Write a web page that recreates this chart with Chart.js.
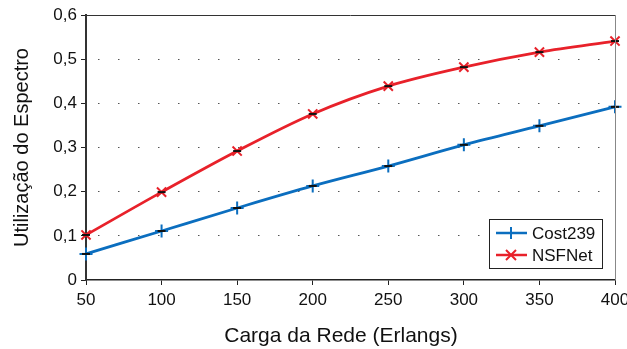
<!DOCTYPE html>
<html>
<head>
<meta charset="utf-8">
<script src="https://cdn.jsdelivr.net/npm/chart.js@4"></script>
<style>
  body { margin: 0; background: #fff; }
  #wrap { width: 627px; height: 349px; }
</style>
</head>
<body>
<div id="wrap"><canvas id="myChart" width="627" height="349"></canvas></div>
<script>
const cargas = [50, 100, 150, 200, 250, 300, 350, 400]
const cost239 = [0.059, 0.111, 0.163, 0.213, 0.258, 0.306, 0.349, 0.392]
const nsfnet = [0.102, 0.199, 0.292, 0.376, 0.439, 0.482, 0.516, 0.541]
const yTicks = ['0', '0,1', '0,2', '0,3', '0,4', '0,5', '0,6']
const tituloX = 'Carga da Rede (Erlangs)'

const AZUL = '#0b6ebf'
const VERMELHO = '#e8212a'
const FONTE = "'Liberation Sans', Arial, sans-serif"

// black dash on every point + frame + legend box inside the plot + x title
const extras = {
    id: 'extras',
    afterDatasetsDraw(chart) {
        const ctx = chart.ctx
        const a = chart.chartArea
        ctx.save()
        chart.data.datasets.forEach((ds, i) => {
            chart.getDatasetMeta(i).data.forEach(p => {
                ctx.strokeStyle = '#111'
                ctx.lineWidth = 2
                ctx.beginPath()
                ctx.moveTo(p.x - 4, p.y)
                ctx.lineTo(p.x + 4, p.y)
                ctx.stroke()
            })
        })
        // top and right border
        ctx.lineWidth = 1
        ctx.strokeStyle = '#333'
        ctx.beginPath()
        ctx.moveTo(a.left, a.top + 0.5)
        ctx.lineTo(a.right, a.top + 0.5)
        ctx.stroke()
        ctx.strokeStyle = '#888'
        ctx.beginPath()
        ctx.moveTo(a.right + 0.5, a.top)
        ctx.lineTo(a.right + 0.5, a.bottom)
        ctx.stroke()

        // legend
        const bx = a.right - 126, by = a.bottom - 61, bw = 113, bh = 49
        ctx.fillStyle = '#fff'
        ctx.fillRect(bx, by, bw, bh)
        ctx.strokeStyle = '#222'
        ctx.lineWidth = 1
        ctx.strokeRect(bx + 0.5, by + 0.5, bw, bh)
        ctx.font = '17px ' + FONTE
        ctx.textBaseline = 'middle'
        chart.data.datasets.forEach((ds, i) => {
            const y = by + 14 + i * 22
            ctx.strokeStyle = ds.borderColor
            ctx.lineWidth = 2.5
            ctx.beginPath()
            ctx.moveTo(bx + 7, y)
            ctx.lineTo(bx + 38, y)
            ctx.stroke()
            const cx = bx + 22
            ctx.lineWidth = 2
            ctx.beginPath()
            if (ds.pointStyle === 'cross') {
                ctx.moveTo(cx, y - 6); ctx.lineTo(cx, y + 6)
            } else {
                ctx.moveTo(cx - 5, y - 5); ctx.lineTo(cx + 5, y + 5)
                ctx.moveTo(cx + 5, y - 5); ctx.lineTo(cx - 5, y + 5)
            }
            ctx.stroke()
            ctx.fillStyle = '#111'
            ctx.fillText(ds.label, bx + 43, y + 1)
        })

        // x axis title
        ctx.font = '21px ' + FONTE
        ctx.textAlign = 'center'
        ctx.textBaseline = 'alphabetic'
        ctx.fillStyle = '#111'
        ctx.fillText(tituloX, 341, 342)
        ctx.restore()
    }
}

const ctx = document.getElementById('myChart')
const myChart = new Chart(ctx, {
    type: 'line',
    data: {
        datasets: [{
            label: 'Cost239',
            data: cargas.map((c, i) => ({ x: c, y: cost239[i] })),
            borderColor: AZUL,
            backgroundColor: AZUL,
            borderWidth: 2.8,
            pointStyle: 'cross',
            pointRadius: 6.5,
            pointBorderWidth: 2,
            cubicInterpolationMode: 'monotone',
            clip: false
        }, {
            label: 'NSFNet',
            data: cargas.map((c, i) => ({ x: c, y: nsfnet[i] })),
            borderColor: VERMELHO,
            backgroundColor: VERMELHO,
            borderWidth: 2.8,
            pointStyle: 'crossRot',
            pointRadius: 6.5,
            pointBorderWidth: 2,
            cubicInterpolationMode: 'monotone',
            clip: false
        }]
    },
    options: {
        responsive: false,
        animation: false,
        layout: { padding: { top: 15, right: 12, left: 0, bottom: 0 } },
        plugins: {
            legend: { display: false },
            tooltip: { enabled: false }
        },
        scales: {
            x: {
                type: 'linear',
                min: 50,
                max: 400,
                afterBuildTicks: (s) => { s.ticks = cargas.map(v => ({ value: v })) },
                afterFit: (s) => { s.height = 69; s.paddingLeft = 0; s.paddingRight = 0 },
                ticks: {
                    color: '#111',
                    font: { family: FONTE, size: 17 },
                    padding: 5,
                    maxRotation: 0
                },
                grid: {
                    drawOnChartArea: false,
                    drawTicks: true,
                    tickLength: 5,
                    tickColor: '#222',
                    tickWidth: 1
                },
                border: { color: '#222', width: 1.5 }
            },
            y: {
                min: 0,
                max: 0.6,
                ticks: {
                    stepSize: 0.1,
                    color: '#111',
                    font: { family: FONTE, size: 17 },
                    padding: 4,
                    callback: (v, i) => yTicks[i]
                },
                afterFit: (s) => { s.width = 86; s.paddingTop = 0; s.paddingBottom = 0 },
                grid: {
                    color: (c) => (c.index === 0 || c.index === 6) ? 'rgba(0,0,0,0)' : '#555',
                    lineWidth: 1,
                    tickLength: 5,
                    tickColor: '#222',
                    tickWidth: 1
                },
                border: { color: '#333', width: 2, dash: [1.5, 18.5], dashOffset: 9 },
                title: {
                    display: true,
                    text: 'Utilização do Espectro',
                    color: '#111',
                    font: { family: FONTE, size: 20 },
                    padding: { top: 10, bottom: 4 }
                }
            }
        }
    },
    plugins: [extras]
})
</script>
</body>
</html>
